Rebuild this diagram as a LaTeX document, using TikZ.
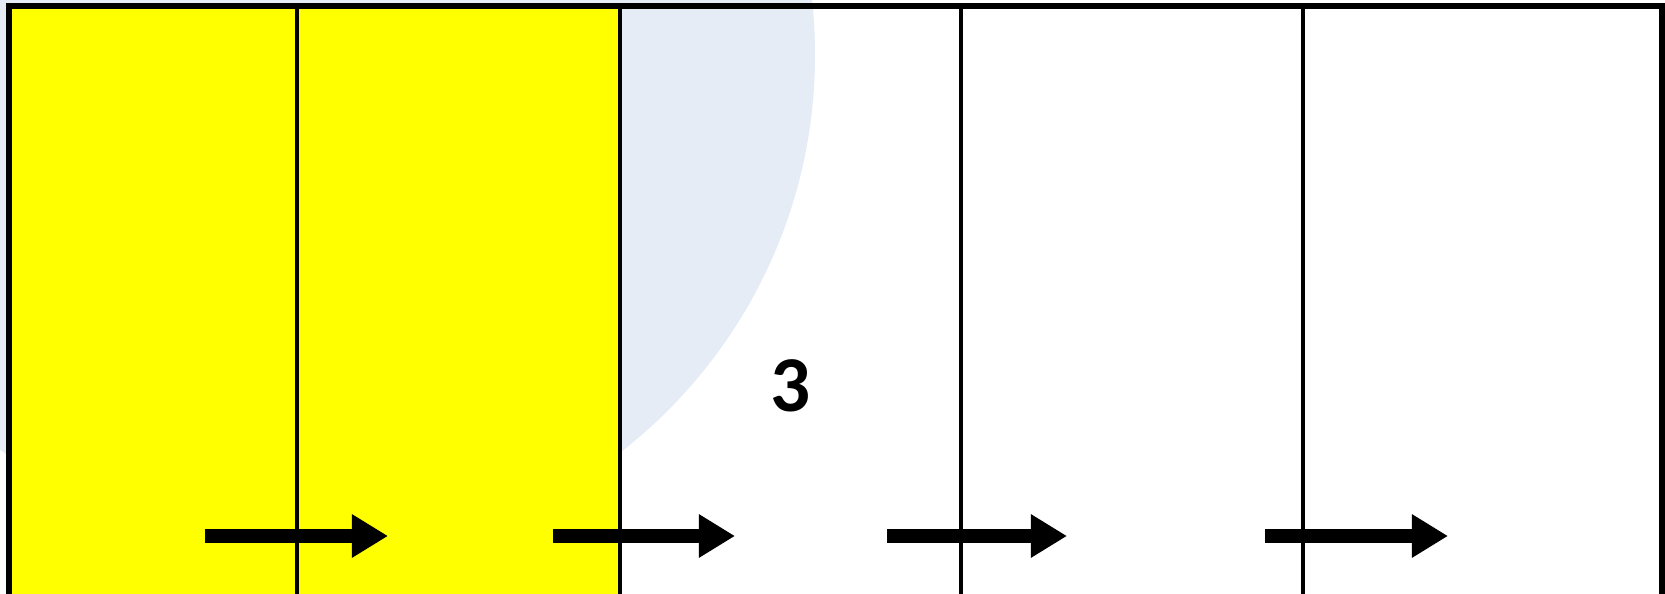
\documentclass[tikz,border=0pt]{standalone}
\usepackage{fontspec}
\newfontfamily\digitfont{Carlito}[BoldFont={Carlito Bold}]
\usepackage{tikz}
\usetikzlibrary{arrows.meta}
\definecolor{paleblue}{HTML}{E6ECF5}
\definecolor{cellyellow}{HTML}{FFFF00}
\tikzset{
  frame/.style={draw=black,line width=1.7pt},
  divider/.style={draw=black,line width=0.95pt},
  fwd/.style={-{Triangle[length=3.6mm,width=4.1mm]},line width=4pt,color=black},
  num/.style={font=\digitfont\bfseries\fontsize{22.5}{27}\selectfont,inner sep=0pt},
}
\begin{document}
\begin{tikzpicture}[x=0.01cm,y=-0.01cm]
\useasboundingbox (0,0) rectangle (1665,594);
\clip (0,0) rectangle (1665,594);
\fill[white] (0,0) rectangle (1665,594);
% backdrop disc and shaded cells
\fill[paleblue] (312,55) circle (503);
\fill[cellyellow] (9,6) rectangle (620,620);
\foreach \x in {297,620,961,1303} \draw[divider] (\x,6) -- (\x,620);
\draw[frame] (9,6) rectangle (1662,640);
% arrows
\foreach \s/\e [count=\i] in {205/388,553/735,887/1067,1265/1448} {
  \coordinate (a\i) at (\s,536); \coordinate (b\i) at (\e,536);
  \draw[fwd] (a\i) -- (b\i);
}
\node[num] (three) at (791,386) {3};
\end{tikzpicture}
\end{document}
